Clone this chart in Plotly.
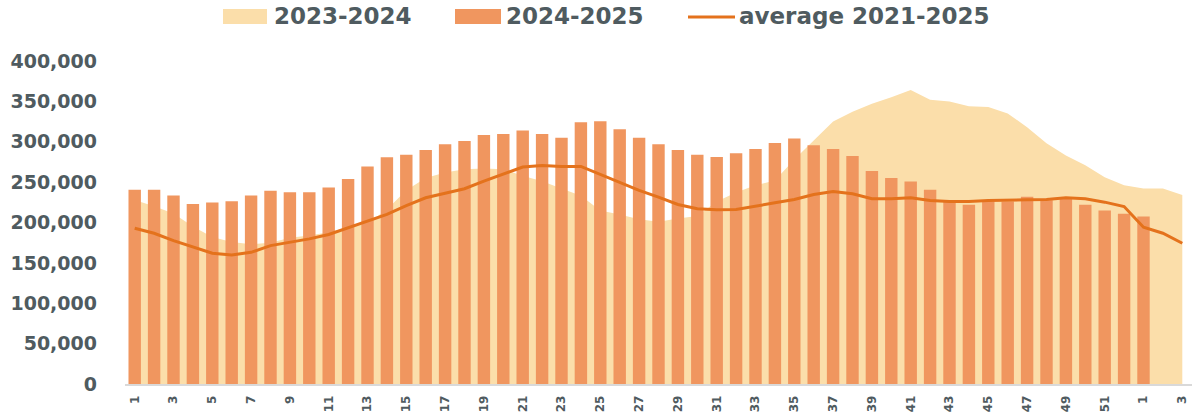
import plotly.graph_objects as go

# --- data ---
weeks = [str(w) for w in range(1, 53)] + ["1", "2", "3"]

season_2023_24 = [228000, 220000, 211000, 195000, 182000, 176000, 173000, 175000, 181000, 184000,
                  188000, 194000, 199000, 216000, 240000, 255000, 262000, 266000, 267000, 266000,
                  258000, 251000, 242000, 233000, 215000, 210000, 204000, 201000, 205000, 208000,
                  226000, 237000, 246000, 252000, 278000, 302000, 325000, 337000, 347000, 355000,
                  364000, 352000, 350000, 344000, 343000, 335000, 318000, 298000, 283000, 271000,
                  256000, 246000, 242000, 242000, 234000]

season_2024_25 = [240500, 240500, 233500, 223000, 224800, 226400, 233500, 239300, 237600, 237600,
                  243400, 253800, 269500, 280700, 284000, 289800, 296800, 301000, 308400, 309700,
                  313800, 309700, 305100, 324200, 325400, 315500, 305100, 296800, 289800, 284000,
                  281100, 285700, 291000, 298500, 303900, 295600, 291000, 282300, 263700, 255000,
                  250900, 240500, 226400, 222000, 226000, 226000, 231900, 227600, 229400, 222000,
                  214900, 210700, 207400, None, None]

average_2021_25 = [192900, 186700, 177600, 169300, 161900, 159800, 163100, 171400, 175100, 179700,
                   185100, 193400, 202400, 210000, 221000, 230600, 236300, 241800, 251300, 259600,
                   268700, 270700, 269500, 269500, 259600, 250000, 239700, 231400, 222300, 217000,
                   215700, 216000, 219800, 224400, 228500, 234700, 238500, 235600, 229400, 229400,
                   230600, 227300, 226000, 226000, 227300, 228100, 228100, 228500, 230600, 229400,
                   225200, 219800, 194200, 186700, 174300]

y_ticks = [0, 50000, 100000, 150000, 200000, 250000, 300000, 350000, 400000]

# --- style ---
AREA_COLOR = "#FBDEAA"
BAR_COLOR = "#F0965F"
LINE_COLOR = "#E4721C"
TEXT_COLOR = "#4F5B60"
FONT = "DejaVu Sans"

# weeks repeat after 52, so place them by position and label them by name
pos = list(range(1, len(weeks) + 1))

fig = go.Figure()

# area sits on the base y axis so the bars (overlay axis) are drawn on top of it
fig.add_trace(go.Scatter(
    x=pos, y=season_2023_24, name="2023-2024",
    mode="lines", line=dict(width=0, color=AREA_COLOR),
    fill="tozeroy", fillcolor=AREA_COLOR,
    showlegend=False, yaxis="y"
))
fig.add_trace(go.Bar(
    x=pos, y=season_2024_25, name="2024-2025",
    marker=dict(color=BAR_COLOR, line=dict(width=0)),
    showlegend=False, yaxis="y2"
))
fig.add_trace(go.Scatter(
    x=pos, y=average_2021_25, name="average 2021-2025",
    mode="lines", line=dict(color=LINE_COLOR, width=3),
    showlegend=False, yaxis="y2"
))

# plot area in pixels
L, R, T, B = 125, 1, 61, 30
W, H = 1193 - L - R, 414 - T - B

def px(x):
    return (x - L) / W

def py(y):
    return (414 - B - y) / H

# hand-built legend with wide swatches like the original
shapes = [
    dict(type="rect", xref="paper", yref="paper", x0=px(223), x1=px(267), y0=py(24), y1=py(9),
         fillcolor=AREA_COLOR, line=dict(width=0)),
    dict(type="rect", xref="paper", yref="paper", x0=px(455), x1=px(501), y0=py(24), y1=py(9),
         fillcolor=BAR_COLOR, line=dict(width=0)),
    dict(type="line", xref="paper", yref="paper", x0=px(688), x1=px(735), y0=py(17), y1=py(17),
         line=dict(color=LINE_COLOR, width=3)),
]
legend_font = dict(family=FONT, size=23, color=TEXT_COLOR, weight="bold")
annotations = [
    dict(text=t, xref="paper", yref="paper", x=px(xx), y=py(16), xanchor="left", yanchor="middle",
         showarrow=False, font=legend_font)
    for t, xx in [("2023-2024", 272), ("2024-2025", 504), ("average 2021-2025", 737)]
]

fig.update_layout(
    width=1193, height=414,
    margin=dict(l=L, r=R, t=T, b=B),
    paper_bgcolor="white", plot_bgcolor="white",
    bargap=0.36,
    showlegend=False,
    shapes=shapes, annotations=annotations,
    xaxis=dict(
        range=[0.5, len(weeks) + 0.5],
        tickvals=pos[::2], ticktext=weeks[::2],
        tickangle=-90,
        tickfont=dict(family=FONT, size=12, color=TEXT_COLOR, weight="bold"),
        ticklabelstandoff=5,
        showgrid=False, zeroline=False,
        showline=True, linecolor="#D9D9D9", linewidth=1.5,
        ticks="",
    ),
    yaxis=dict(
        range=[0, 400000],
        tickvals=y_ticks, tickformat=",",
        tickfont=dict(family=FONT, size=19, color=TEXT_COLOR, weight="bold"),
        ticklabelstandoff=27,
        showgrid=False, zeroline=False, showline=False, ticks="",
    ),
    yaxis2=dict(
        range=[0, 400000], overlaying="y", visible=False,
    ),
)

# drop the browser's default body margin so the chart sits at the page origin
fig.write_html("out.html", config={"displayModeBar": False},
               post_script="document.body.style.margin='0';")
